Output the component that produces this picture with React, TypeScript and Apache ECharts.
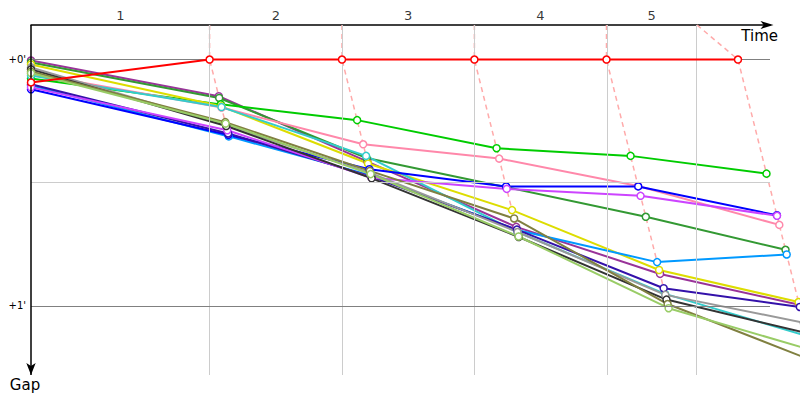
import React, { useEffect, useRef } from "react";
import * as echarts from "echarts";

// Lap structure (time in the same unit as the gap)
const lapLabels = ["1", "2", "3", "4", "5"];
const lapBoundaries = [0, 2.9, 5.05, 7.2, 9.345, 10.815];
const leaderTimes = [0, 2.9, 5.05, 7.2, 9.345, 11.48];
const gapTicks = [0, 0.5, 1];
const gapTickLabels = ["+0'", "", "+1'"];
const Y_MIN = -0.14;
const Y_MAX = 1.28;
const X_MIN = 0;
const X_MAX = 12;
const GRID_LEFT = 31;
const GRID_RIGHT = 30;
const CHART_W = 800;
// data grid spans to the right edge of the chart with the same scale
const X_MAX_DATA =
  (X_MAX * (CHART_W - GRID_LEFT)) / (CHART_W - GRID_LEFT - GRID_RIGHT);

// Gap to the leader at start and after each lap
const redGaps = [0.093, 0, 0, 0, 0, 0];
const purpleGaps = [0.004, 0.149, 0.414, 0.679, 0.87, 0.995];
const darkGreenGaps = [0.012, 0.156, 0.4, 0.518, 0.638, 0.772];
const greenGaps = [0.077, 0.182, 0.246, 0.36, 0.391, 0.463];
const yellowGaps = [0.02, 0.19, 0.422, 0.611, 0.854, 0.984];
const pinkGaps = [0.057, 0.195, 0.344, 0.402, 0.513, 0.671];
const cyanGaps = [0.065, 0.193, 0.391, 0.7, 0.951, 1.122];
const lightBlueGaps = [0.105, 0.312, 0.47, 0.692, 0.822, 0.791];
const blueGaps = [0.121, 0.306, 0.445, 0.515, 0.515, 0.632];
const navyGaps = [0.1, 0.3, 0.475, 0.69, 0.928, 1.004];
const violetGaps = [0.113, 0.287, 0.48, 0.525, 0.553, 0.634];
const grayGaps = [0.032, 0.267, 0.46, 0.7, 0.955, 1.068];
const blackGaps = [0.04, 0.27, 0.482, 0.72, 0.974, 1.11];
const oliveGaps = [0.049, 0.254, 0.452, 0.645, 0.992, 1.223];
const lightGreenGaps = [0.055, 0.26, 0.465, 0.718, 1.009, 1.178];

const cars = [
  { name: "Car A", color: "#ff0000", gaps: redGaps },
  { name: "Car B", color: "#993399", gaps: purpleGaps },
  { name: "Car C", color: "#339933", gaps: darkGreenGaps },
  { name: "Car D", color: "#00cc00", gaps: greenGaps },
  { name: "Car E", color: "#dddd00", gaps: yellowGaps },
  { name: "Car F", color: "#ff88aa", gaps: pinkGaps },
  { name: "Car G", color: "#33cccc", gaps: cyanGaps },
  { name: "Car H", color: "#0099ff", gaps: lightBlueGaps },
  { name: "Car I", color: "#0000ff", gaps: blueGaps },
  { name: "Car J", color: "#3311aa", gaps: navyGaps },
  { name: "Car K", color: "#cc44ff", gaps: violetGaps },
  { name: "Car L", color: "#999999", gaps: grayGaps },
  { name: "Car M", color: "#333333", gaps: blackGaps },
  { name: "Car N", color: "#808040", gaps: oliveGaps },
  { name: "Car O", color: "#99cc66", gaps: lightGreenGaps },
];

const FONT = "DejaVu Sans";

function carPoint(gaps: number[], k: number): [number, number] {
  return [k === 0 ? 0 : leaderTimes[k] + gaps[k], gaps[k]];
}

export default function App() {
  const ref = useRef<HTMLDivElement>(null);

  useEffect(() => {
    if (!ref.current) return;
    const chart = echarts.init(ref.current, null, { renderer: "svg" });

    const gridLines: any[] = [];
    for (let k = 1; k < lapBoundaries.length; k++) {
      gridLines.push({
        xAxis: lapBoundaries[k],
        lineStyle: { color: "#cccccc", width: 1, type: "solid" },
        label: { show: false },
      });
    }
    gapTicks.forEach((g, i) => {
      gridLines.push({
        yAxis: g,
        lineStyle: {
          color: gapTickLabels[i] ? "#808080" : "#cccccc",
          width: 1,
          type: "solid",
        },
        label: gapTickLabels[i]
          ? {
              show: true,
              position: "start",
              formatter: gapTickLabels[i],
              color: "#000",
              fontSize: 10,
              fontFamily: FONT,
              distance: 5,
            }
          : { show: false },
      });
    });

    const gridSeries = {
      type: "line",
      name: "grid",
      xAxisIndex: 0,
      yAxisIndex: 0,
      data: [[X_MIN, Y_MIN]],
      symbol: "none",
      lineStyle: { width: 0 },
      silent: true,
      z: 0,
      markLine: {
        silent: true,
        symbol: ["none", "none"],
        animation: false,
        data: gridLines,
      },
    };

    const axisArrowSeries = {
      type: "line",
      name: "gapAxis",
      xAxisIndex: 0,
      yAxisIndex: 0,
      data: [[X_MIN, Y_MIN]],
      symbol: "none",
      lineStyle: { width: 0 },
      silent: true,
      clip: false,
      z: 10,
      markLine: {
        silent: true,
        animation: false,
        symbol: ["none", "arrow"],
        symbolSize: [7, 12],
        label: { show: false },
        lineStyle: { color: "#000", width: 1.5, type: "solid" },
        data: [[{ coord: [X_MIN, Y_MIN] }, { coord: [X_MIN, Y_MAX] }]],
      },
    };

    const lapDashSeries = lapLabels.map((_, i) => {
      const k = i + 1;
      const pts = cars
        .map((c) => carPoint(c.gaps, k))
        .sort((a, b) => a[1] - b[1]);
      return {
        type: "line",
        name: "lap" + k,
        xAxisIndex: 1,
        yAxisIndex: 1,
        data: [[lapBoundaries[k], Y_MIN], ...pts],
        symbol: "none",
        clip: false,
        silent: true,
        z: 1,
        lineStyle: { color: "#ffaaaa", width: 1.5, type: [5, 4] },
      };
    });

    const carSeries = cars.map((c, idx) => ({
      type: "line",
      name: c.name,
      xAxisIndex: 1,
      yAxisIndex: 1,
      data: c.gaps.map((_, k) => carPoint(c.gaps, k)),
      symbol: "circle",
      symbolSize: 7,
      showSymbol: true,
      clip: false,
      z: 3 + (idx === 0 ? 20 : 0),
      lineStyle: { color: c.color, width: 2 },
      itemStyle: { color: "#ffffff", borderColor: c.color, borderWidth: 1.5 },
    }));

    const lapLabelSeries = {
      type: "scatter",
      name: "laps",
      xAxisIndex: 0,
      yAxisIndex: 0,
      data: lapLabels.map((_, i) => [
        (lapBoundaries[i] + lapBoundaries[i + 1]) / 2,
        Y_MIN,
      ]),
      symbolSize: 0,
      silent: true,
      label: {
        show: true,
        position: "top",
        distance: 3,
        formatter: (p: any) => lapLabels[p.dataIndex],
        color: "#000",
        fontSize: 13,
        fontFamily: FONT,
      },
    };

    chart.setOption({
      animation: false,
      backgroundColor: "#ffffff",
      grid: [
        { left: GRID_LEFT, right: GRID_RIGHT, top: 25, bottom: 25, containLabel: false },
        { left: GRID_LEFT, right: 0, top: 25, bottom: 25, containLabel: false },
      ],
      xAxis: [
        {
          type: "value",
          gridIndex: 0,
          position: "top",
          min: X_MIN,
          max: X_MAX,
          axisLine: {
            show: true,
            onZero: false,
            lineStyle: { color: "#000", width: 1.5 },
            symbol: ["none", "arrow"],
            symbolSize: [6, 13],
            symbolOffset: [0, 3.5],
          },
          axisTick: { show: false },
          axisLabel: { show: false },
          splitLine: { show: false },
          name: "Time",
          nameLocation: "end",
          nameGap: 8,
          nameTextStyle: {
            fontSize: 15,
            fontFamily: FONT,
            color: "#000",
            align: "right",
            verticalAlign: "top",
            padding: [3, 0, 0, 0],
          },
        },
        {
          type: "value",
          gridIndex: 1,
          min: X_MIN,
          max: X_MAX_DATA,
          show: false,
        },
      ],
      yAxis: [
        {
          type: "value",
          gridIndex: 0,
          inverse: true,
          min: Y_MIN,
          max: Y_MAX,
          axisLine: { show: false, onZero: false },
          axisTick: { show: false },
          axisLabel: { show: false },
          splitLine: { show: false },
          name: "Gap",
          nameLocation: "end",
          nameGap: 2,
          nameTextStyle: {
            fontSize: 15,
            fontFamily: FONT,
            color: "#000",
            align: "center",
            verticalAlign: "top",
            padding: [0, 12, 0, 0],
          },
        },
        {
          type: "value",
          gridIndex: 1,
          inverse: true,
          min: Y_MIN,
          max: Y_MAX,
          show: false,
        },
      ],
      series: [
        gridSeries,
        ...lapDashSeries,
        ...carSeries,
        lapLabelSeries,
        axisArrowSeries,
      ],
    });

    return () => chart.dispose();
  }, []);

  return (
    <div
      ref={ref}
      style={{ position: "fixed", left: 0, top: 0, width: 800, height: 400 }}
    />
  );
}
